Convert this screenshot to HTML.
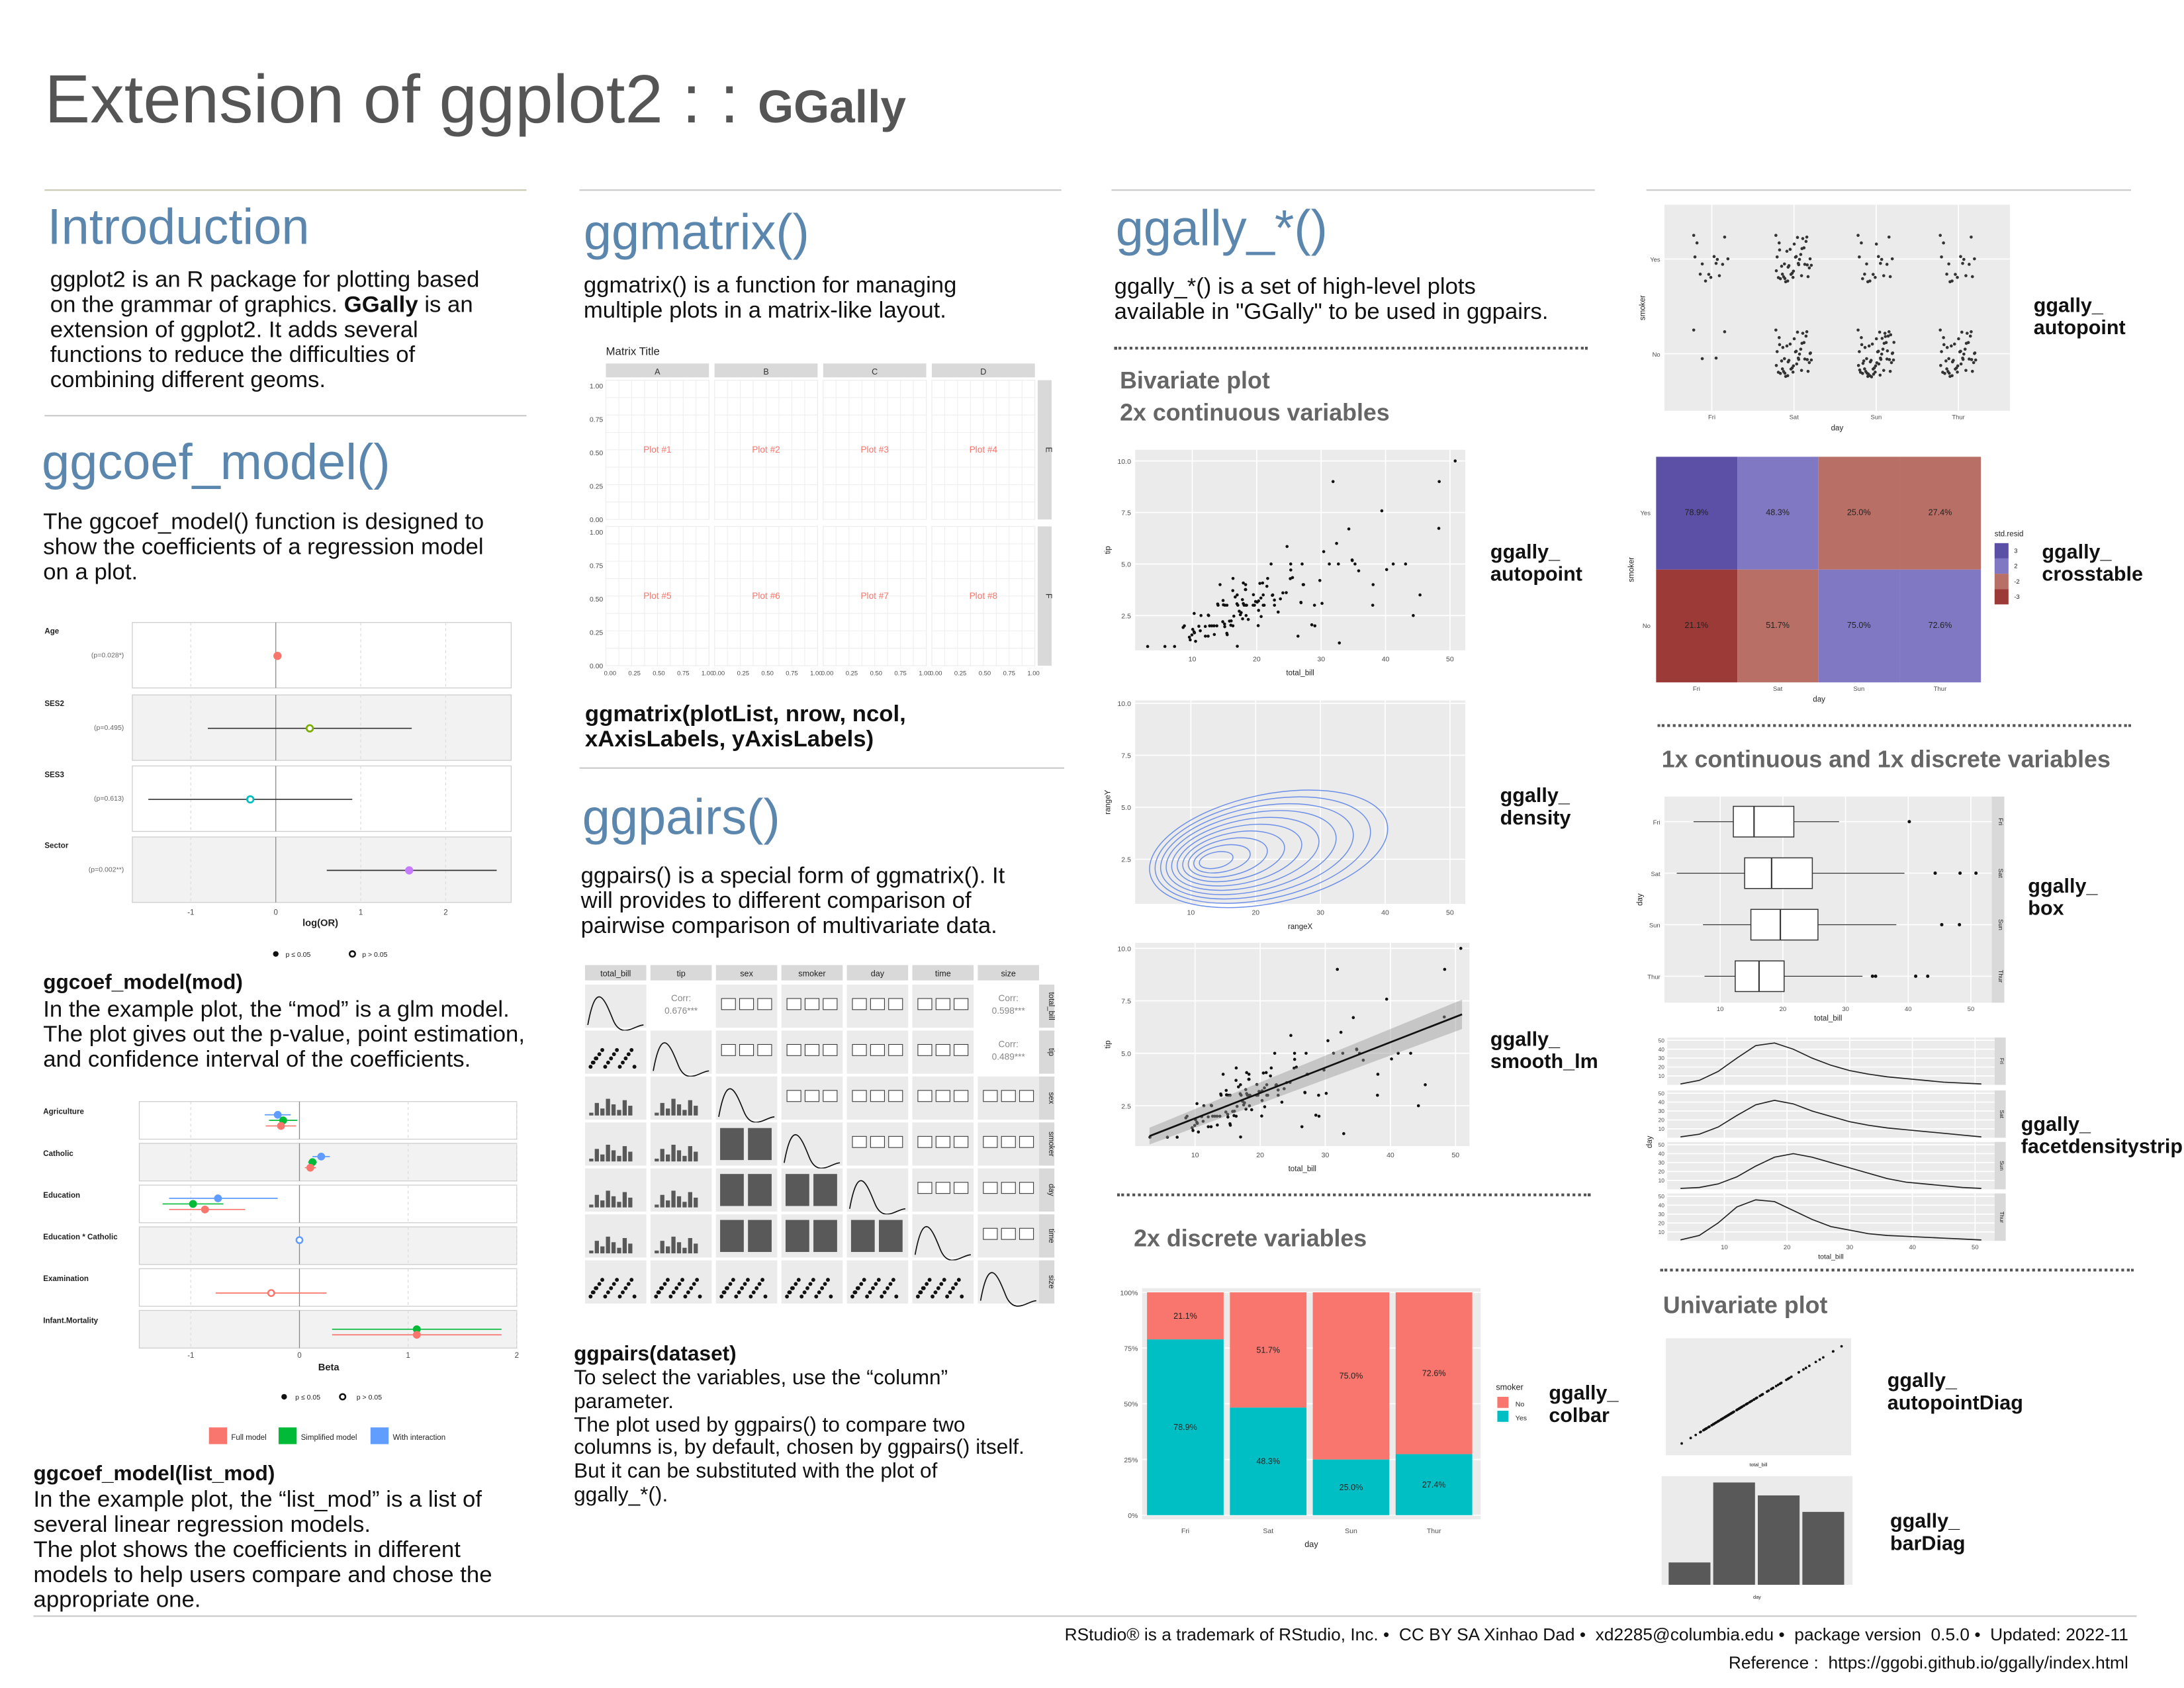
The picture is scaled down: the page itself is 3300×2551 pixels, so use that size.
<!DOCTYPE html>
<html><head><meta charset="utf-8">
<style>
html,body{margin:0;padding:0;background:#fff;}
#page{position:absolute;left:0;top:0;width:1568px;height:1212px;transform:scale(2.1046);transform-origin:0 0;font-family:"Liberation Sans",sans-serif;color:#111;overflow:hidden;}
.t{position:absolute;white-space:nowrap;}
.h{position:absolute;color:#5b86ad;font-size:36px;white-space:nowrap;}
.p{position:absolute;font-size:16.5px;line-height:18px;white-space:nowrap;}
.sub{position:absolute;color:#666;font-weight:bold;font-size:17px;white-space:nowrap;}
.lab{position:absolute;font-weight:bold;font-size:14.5px;line-height:16px;}
.rule{position:absolute;height:0;border-top:1.3px solid #c9c9c9;}
.dot{position:absolute;height:0;border-top:2px dotted #555;}
svg{position:absolute;left:0;top:0;}
</style></head><body>
<div id="page">
<div class="t" style="left:32px;top:44px;font-size:49px;color:#555;">Extension of ggplot2 : : <span style="font-size:33px;font-weight:bold;">GGally</span></div>

<div class="rule" style="left:32px;top:136px;width:346px;border-color:#c8c8b0"></div>
<div class="h" style="left:34px;top:142px;">Introduction</div>
<div class="p" style="left:36px;top:192px;">ggplot2 is an R package for plotting based<br>on the grammar of graphics. <b>GGally</b> is an<br>extension of ggplot2. It adds several<br>functions to reduce the difficulties of<br>combining different geoms.</div>
<div class="rule" style="left:32px;top:298px;width:346px;"></div>
<div class="h" style="left:30px;top:311px;">ggcoef_model()</div>
<div class="p" style="left:31px;top:366px;">The ggcoef_model() function is designed to<br>show the coefficients of a regression model<br>on a plot.</div>
<div class="lab" style="left:31px;top:698px;font-size:15px;">ggcoef_model(mod)</div>
<div class="p" style="left:31px;top:716px;">In the example plot, the “mod” is a glm model.<br>The plot gives out the p-value, point estimation,<br>and confidence interval of the coefficients.</div>
<div class="lab" style="left:24px;top:1051px;font-size:15px;">ggcoef_model(list_mod)</div>
<div class="p" style="left:24px;top:1068px;">In the example plot, the “list_mod” is a list of<br>several linear regression models.<br>The plot shows the coefficients in different<br>models to help users compare and chose the<br>appropriate one.</div>

<div class="rule" style="left:416px;top:136px;width:346px;"></div>
<div class="h" style="left:419px;top:146px;">ggmatrix()</div>
<div class="p" style="left:419px;top:196px;">ggmatrix() is a function for managing<br>multiple plots in a matrix-like layout.</div>
<div class="lab" style="left:420px;top:504px;font-size:16.5px;line-height:18px;">ggmatrix(plotList, nrow, ncol,<br>xAxisLabels, yAxisLabels)</div>
<div class="rule" style="left:416px;top:551px;width:348px;"></div>
<div class="h" style="left:418px;top:566px;">ggpairs()</div>
<div class="p" style="left:417px;top:620px;">ggpairs() is a special form of ggmatrix(). It<br>will provides to different comparison of<br>pairwise comparison of multivariate data.</div>
<div class="lab" style="left:412px;top:965px;font-size:15px;">ggpairs(dataset)</div>
<div class="p" style="left:412px;top:982px;font-size:15px;line-height:16.8px;">To select the variables, use the “column”<br>parameter.<br>The plot used by ggpairs() to compare two<br>columns is, by default, chosen by ggpairs() itself.<br>But it can be substituted with the plot of<br>ggally_*().</div>

<div class="rule" style="left:798px;top:136px;width:347px;"></div>
<div class="h" style="left:801px;top:143px;">ggally_*()</div>
<div class="p" style="left:800px;top:197px;">ggally_*() is a set of high-level plots<br>available in "GGally" to be used in ggpairs.</div>
<div class="dot" style="left:800px;top:249px;width:340px;"></div>
<div class="sub" style="left:804px;top:262px;line-height:23px;">Bivariate plot<br>2x continuous variables</div>
<div class="lab" style="left:1070px;top:389px;">ggally_<br>autopoint</div>
<div class="lab" style="left:1077px;top:564px;">ggally_<br>density</div>
<div class="lab" style="left:1070px;top:739px;">ggally_<br>smooth_lm</div>
<div class="dot" style="left:802px;top:857px;width:340px;"></div>
<div class="sub" style="left:814px;top:880px;">2x discrete variables</div>
<div class="lab" style="left:1112px;top:993px;">ggally_<br>colbar</div>

<div class="rule" style="left:1182px;top:136px;width:348px;"></div>
<div class="lab" style="left:1460px;top:212px;">ggally_<br>autopoint</div>
<div class="lab" style="left:1466px;top:389px;">ggally_<br>crosstable</div>
<div class="dot" style="left:1190px;top:520px;width:340px;"></div>
<div class="sub" style="left:1193px;top:536px;">1x continuous and 1x discrete variables</div>
<div class="lab" style="left:1456px;top:629px;">ggally_<br>box</div>
<div class="lab" style="left:1451px;top:800px;">ggally_<br>facetdensitystrip</div>
<div class="dot" style="left:1192px;top:911px;width:340px;"></div>
<div class="sub" style="left:1194px;top:928px;">Univariate plot</div>
<div class="lab" style="left:1355px;top:984px;">ggally_<br>autopointDiag</div>
<div class="lab" style="left:1357px;top:1085px;">ggally_<br>barDiag</div>

<div class="rule" style="left:24px;top:1160px;width:1510px;"></div>
<div class="t" style="right:40px;top:1167px;font-size:12.5px;">RStudio® is a trademark of RStudio, Inc. • &nbsp;CC BY SA Xinhao Dad • &nbsp;xd2285@columbia.edu • &nbsp;package version &nbsp;0.5.0 • &nbsp;Updated: 2022-11</div>
<div class="t" style="right:40px;top:1187px;font-size:12.5px;">Reference : &nbsp;https://ggobi.github.io/ggally/index.html</div>

<svg id="cv" width="1568" height="1212" viewBox="0 0 1568 1212" font-family="Liberation Sans, sans-serif"></svg>
</div>
<script>
// ---------- data ----------
const tipsBill=[16.99,10.34,21.01,23.68,24.59,25.29,8.77,26.88,15.04,14.78,10.27,35.26,15.42,18.43,14.83,21.58,10.33,16.29,16.97,20.65,17.92,20.29,15.77,39.42,19.82,17.81,13.37,12.69,21.7,19.65,9.55,18.35,15.06,20.69,17.78,24.06,16.31,16.93,18.69,31.27,16.04,17.46,13.94,9.68,30.4,18.29,22.23,32.4,28.55,18.04,12.54,10.29,34.81,9.94,25.56,19.49,38.01,26.41,11.24,48.27,20.29,13.81,11.02,18.29,17.59,20.08,16.45,3.07,20.23,15.01,12.02,17.07,26.86,25.28,14.73,10.51,17.92,27.2,22.76,17.29,19.44,16.66,10.07,32.68,15.98,34.83,13.03,18.28,24.71,21.16,28.97,22.49,5.75,16.32,22.75,40.17,27.28,12.03,21.01,12.46,11.35,15.38,44.3,22.42,20.92,15.36,20.49,25.21,18.24,14.31,14.0,7.25,50.81,48.33,45.35,43.11,41.19,38.07,29.03,32.83,35.83,30.14,23.33,13.42,12.48,8.58,29.8,34.3,27.05,31.85];
const tipsTip=[1.01,1.66,3.5,3.31,3.61,4.71,2.0,3.12,1.96,3.23,1.71,5.0,1.57,3.0,3.02,3.92,1.67,3.71,3.5,3.35,4.08,2.75,2.23,7.58,3.18,2.34,2.0,2.0,4.3,3.0,1.45,2.5,3.0,2.45,3.27,3.6,2.0,3.07,2.31,5.0,2.24,2.54,3.06,1.32,5.6,3.0,5.0,6.0,2.05,3.0,2.5,2.6,5.2,1.56,4.34,3.51,3.0,1.5,1.76,6.73,3.21,2.0,1.98,3.76,2.64,3.15,2.47,1.0,2.01,2.09,1.97,3.0,3.14,5.0,2.2,1.25,3.08,4.0,3.0,2.71,3.0,3.4,1.83,5.0,2.03,5.17,2.0,4.0,5.85,3.0,3.0,3.5,1.0,4.3,3.25,4.73,4.0,1.5,3.0,1.5,2.5,3.0,2.5,3.48,4.08,1.64,4.06,4.29,3.76,4.0,3.0,1.0,10.0,9.0,3.5,5.0,5.0,4.0,2.0,1.17,4.67,3.09,2.67,1.58,2.52,1.92,4.2,6.7,5.0,9.0];
const xTicks=[10,20,30,40,50];
const yTicksTip=[2.5,5.0,7.5,10.0];
const densityLevels=[1,2,3,4,5,6,7,8,9,10];
const days=['Fri','Sat','Sun','Thur'];
const pctNo=[21.1,51.7,75.0,72.6];
const pctYes=[78.9,48.3,25.0,27.4];
const residColorsYes=['#5b4fa6','#8078c2','#b86f66','#b86f66'];
const residColorsNo=['#9b3a36','#b86f66','#8078c2','#8078c2'];
const smokerYesCounts=[15,42,19,17];
const smokerNoCounts=[4,45,57,45];
const boxStats=[[5.75,12.1,15.4,21.75,28.97],[3.07,13.9,18.2,24.7,39.4],[7.25,14.9,19.6,25.6,38.1],[7.5,12.4,16.2,20.2,32.7]];
const boxOutliers=[[40.17],[44.3,48.27,50.81],[45.35,48.17],[34.3,34.8,41.19,43.11]];
const densGridX=[3,6,9,12,15,18,21,24,27,30,33,36,39,42,45,48,51];
const densFri=[1,5,15,30,44,47,40,30,22,16,12,9,7,5,3,2,1];
const densSat=[1,4,12,25,37,42,38,30,24,18,14,11,9,7,5,3,1];
const densSun=[1,2,6,14,26,36,40,36,30,24,18,12,8,6,4,2,1];
const densThur=[1,6,20,38,46,44,34,24,16,12,8,6,5,4,3,2,1];
const barDiagCounts=[19,87,76,62];
const coef1Terms=['Age','SES2','SES3','Sector'];
const coef1P=['(p=0.028*)','(p=0.495)','(p=0.613)','(p=0.002**)'];
const coef1Est=[0.02,0.4,-0.3,1.57];
const coef1Lo=[0.0,-0.8,-1.5,0.6];
const coef1Hi=[0.04,1.6,0.9,2.6];
const coef1Col=['#f8766d','#7cae00','#00bfc4','#c77cff'];
const coef2Terms=['Agriculture','Catholic','Education','Education * Catholic','Examination','Infant.Mortality'];
const coef2Full=[-0.17,0.1,-0.87,null,-0.26,1.08];
const coef2FullLo=[-0.31,0.05,-1.2,null,-0.77,0.3];
const coef2FullHi=[-0.03,0.15,-0.5,null,0.25,1.86];
const coef2Simp=[-0.15,0.12,-0.98,null,null,1.08];
const coef2SimpLo=[-0.28,0.08,-1.26,null,null,0.3];
const coef2SimpHi=[-0.02,0.16,-0.7,null,null,1.86];
const coef2Int=[-0.2,0.2,-0.75,0.0,null,null];
const coef2IntLo=[-0.32,0.12,-1.2,-0.01,null,null];
const coef2IntHi=[-0.08,0.28,-0.2,0.01,null,null];
const pairVars=['total_bill','tip','sex','smoker','day','time','size'];
const pairCorr=['0.676***','0.598***','0.489***'];
const matrixCols=['A','B','C','D'];
const matrixRows=['E','F'];

// ---------- helpers ----------
const NS='http://www.w3.org/2000/svg';
const cv=document.getElementById('cv');
function mk(parent,tag,attrs,txt){const e=document.createElementNS(NS,tag);for(const k in attrs)e.setAttribute(k,attrs[k]);if(txt!==undefined)e.textContent=txt;parent.appendChild(e);return e;}
function grp(name){const g=mk(cv,'g',{});


return g;}
function lin(d0,d1,r0,r1){return v=>r0+(v-d0)*(r1-r0)/(d1-d0);}
function panel(g,x,y,w,h){mk(g,'rect',{x:x,y:y,width:w,height:h,fill:'#ebebeb'});}
function vgrid(g,xs,y,h){xs.forEach(v=>mk(g,'line',{x1:v,x2:v,y1:y,y2:y+h,stroke:'#fff','stroke-width':0.8}));}
function hgrid(g,ys,x,w){ys.forEach(v=>mk(g,'line',{x1:x,x2:x+w,y1:v,y2:v,stroke:'#fff','stroke-width':0.8}));}
function txt(g,x,y,s,size,anchor,fill,extra){const t=mk(g,'text',Object.assign({x:x,y:y,'font-size':size,'text-anchor':anchor||'middle',fill:fill||'#4d4d4d'},extra||{}),s);return t;}

// ---------- scatter-type panels ----------
function scatterPanel(name,x0,y0,w,h,sx,sy,xlab,ylab,withPoints){
  const g=grp(name);
  panel(g,x0,y0,w,h);
  vgrid(g,xTicks.map(sx),y0,h);hgrid(g,yTicksTip.map(sy),x0,w);
  xTicks.forEach(v=>txt(g,sx(v),y0+h+8,String(v),5));
  yTicksTip.forEach(v=>txt(g,x0-3,sy(v)+2,v.toFixed(1),5,'end'));
  txt(g,x0+w/2,y0+h+18,xlab,5.5,'middle','#222');
  txt(g,x0-18,y0+h/2,ylab,5.5,'middle','#222',{transform:`rotate(-90 ${x0-18} ${y0+h/2})`});
  if(withPoints){tipsBill.forEach((b,i)=>{const c=mk(g,'circle',{cx:sx(b),cy:sy(tipsTip[i]),r:1.1,fill:'#111'});
    
    });}
  return g;
}
{const sx=lin(10,50,856,1041),sy=lin(2.5,10,442,331);scatterPanel('autopoint-scatter-chart',815,323,237,144,sx,sy,'total_bill','tip',true);}
{const sx=lin(10,50,855,1041),sy=lin(2.5,10,617,505);const g=scatterPanel('density-chart',815,503,237,146,sx,sy,'rangeX','rangeY',false);
 densityLevels.forEach(k=>{const cx=sx(13+k*0.9),cy=sy(2.4+k*0.06);const rx=4+k*8.3,ry=2+k*3.7;
  const e=mk(g,'ellipse',{cx:cx,cy:cy,rx:rx,ry:ry,fill:'none',stroke:'#6b8ee8','stroke-width':0.7,transform:`rotate(-12 ${cx} ${cy})`});
  
  });}
{const sx=lin(10,50,858,1045),sy=lin(2.5,10,794,681);const g=scatterPanel('smooth-lm-chart',815,677,240,146,sx,sy,'total_bill','tip',true);
 const n=tipsBill.length,mx=tipsBill.reduce((a,b)=>a+b)/n,my=tipsTip.reduce((a,b)=>a+b)/n;let sxy=0,sxx=0;tipsBill.forEach((b,i)=>{sxy+=(b-mx)*(tipsTip[i]-my);sxx+=(b-mx)*(b-mx);});
 const sl=sxy/sxx,ic=my-sl*mx;
 mk(g,'polygon',{points:`${sx(3)},${sy(ic+sl*3+0.4)} ${sx(51)},${sy(ic+sl*51+0.7)} ${sx(51)},${sy(ic+sl*51-0.7)} ${sx(3)},${sy(ic+sl*3-0.4)}`,fill:'#999','fill-opacity':0.45});
 const l=mk(g,'line',{x1:sx(3),y1:sy(ic+sl*3),x2:sx(51),y2:sy(ic+sl*51),stroke:'#111','stroke-width':1.3});
 
 }

// ---------- colbar ----------
{const g=grp('colbar-chart');const x0=820,y0=925,w=243,h=166;panel(g,x0,y0,w,h);
 const sy=lin(0,100,y0+h-3,y0+3);const bw=55,step=59.5;
 [0,25,50,75,100].forEach(v=>{mk(g,'line',{x1:x0,x2:x0+w,y1:sy(v),y2:sy(v),stroke:'#fff','stroke-width':0.8});txt(g,x0-3,sy(v)+2,v+'%',5,'end');});
 days.forEach((d,i)=>{const cx=x0+31+i*step;
  const ry=mk(g,'rect',{x:cx-bw/2,y:sy(pctYes[i]),width:bw,height:sy(0)-sy(pctYes[i]),fill:'#00bfc4'});
  
  
  const rn=mk(g,'rect',{x:cx-bw/2,y:sy(100),width:bw,height:sy(pctYes[i])-sy(100),fill:'#f8766d'});
  
  
  txt(g,cx,(sy(pctYes[i])+sy(100))/2+2,pctNo[i].toFixed(1)+'%',6,'middle','#222');
  txt(g,cx,(sy(pctYes[i])+sy(0))/2+2,pctYes[i].toFixed(1)+'%',6,'middle','#222');
  txt(g,cx,y0+h+10,d,5);});
 txt(g,x0+w/2,y0+h+20,'day',6,'middle','#222');
 txt(g,1074,998,'smoker',6,'start','#222');
 mk(g,'rect',{x:1075,y:1003,width:8,height:8,fill:'#f8766d'});mk(g,'rect',{x:1075,y:1013,width:8,height:8,fill:'#00bfc4'});
 txt(g,1088,1010,'No',5,'start','#222');txt(g,1088,1020,'Yes',5,'start','#222');}

// ---------- autopoint 2 ----------
{const g=grp('smoker-day-autopoint-chart');const x0=1195,y0=147,w=248,h=148;panel(g,x0,y0,w,h);
 const cxs=days.map((d,i)=>x0+34+i*59);const yYes=186,yNo=254;
 vgrid(g,cxs,y0,h);hgrid(g,[yYes,yNo],x0,w);
 function jit(cnt,cx,cy,tag){for(let k=0;k<cnt;k++){const a=(k*0.618)%1,b=(k*0.382+0.21*k*k%1)%1;
  const c=mk(g,'circle',{cx:cx+(a-0.5)*26,cy:cy+(b-0.5)*34,r:1.1,fill:'#333'});
  
  }}
 days.forEach((d,i)=>{jit(smokerYesCounts[i],cxs[i],yYes,'yes');jit(smokerNoCounts[i],cxs[i],yNo,'no');txt(g,cxs[i],y0+h+6,d,4.5);});
 txt(g,x0-3,yYes+2,'Yes',4.5,'end');txt(g,x0-3,yNo+2,'No',4.5,'end');
 txt(g,x0+w/2,y0+h+14,'day',5.5,'middle','#222');txt(g,x0-14,y0+h/2,'smoker',5.5,'middle','#222',{transform:`rotate(-90 ${x0-14} ${y0+h/2})`});}

// ---------- crosstable ----------
{const g=grp('crosstable-chart');const x0=1189,y0=328,ch=81;
 days.forEach((d,i)=>{const x=x0+i*58.3;
  const a=mk(g,'rect',{x:x,y:y0,width:58.3,height:ch,fill:residColorsYes[i]});
  
  
  const b=mk(g,'rect',{x:x,y:y0+ch,width:58.3,height:ch,fill:residColorsNo[i]});
  
  
  txt(g,x+29,y0+42,pctYes[i].toFixed(1)+'%',6,'middle','#222');txt(g,x+29,y0+ch+42,pctNo[i].toFixed(1)+'%',6,'middle','#222');
  txt(g,x+29,y0+2*ch+6,d,4.5);});
 txt(g,x0-4,y0+42,'Yes',4.5,'end');txt(g,x0-4,y0+ch+42,'No',4.5,'end');
 txt(g,x0+117,y0+2*ch+14,'day',5.5,'middle','#222');txt(g,x0-16,y0+ch,'smoker',5.5,'middle','#222',{transform:`rotate(-90 ${x0-16} ${y0+ch})`});
 txt(g,1432,385,'std.resid',5.5,'start','#222');
 ['#5b4fa6','#8078c2','#b86f66','#9b3a36'].forEach((c,i)=>mk(g,'rect',{x:1432,y:390+i*11,width:10,height:11,fill:c}));
 ['3','2','-2','-3'].forEach((s,i)=>txt(g,1446,397+i*11,s,4.5,'start','#222'));}

// ---------- box plot ----------
{const g=grp('box-chart');const x0=1195,y0=572,w=235,h=148;panel(g,x0,y0,w,h);
 mk(g,'rect',{x:x0+w,y:y0,width:9,height:h,fill:'#d9d9d9'});
 const sx=lin(10,50,1235,1415);const rows=[590,627,664,701];
 vgrid(g,xTicks.map(sx),y0,h);hgrid(g,rows,x0,w);
 days.forEach((d,i)=>{const s=boxStats[i],cy=rows[i];
  mk(g,'line',{x1:sx(s[0]),x2:sx(s[1]),y1:cy,y2:cy,stroke:'#333','stroke-width':0.6});
  mk(g,'line',{x1:sx(s[3]),x2:sx(s[4]),y1:cy,y2:cy,stroke:'#333','stroke-width':0.6});
  const r=mk(g,'rect',{x:sx(s[1]),y:cy-11,width:sx(s[3])-sx(s[1]),height:22,fill:'#fff',stroke:'#333','stroke-width':0.7});
  
  
  mk(g,'line',{x1:sx(s[2]),x2:sx(s[2]),y1:cy-11,y2:cy+11,stroke:'#333','stroke-width':1});
  boxOutliers[i].forEach(o=>mk(g,'circle',{cx:sx(o),cy:cy,r:1.2,fill:'#111'}));
  txt(g,x0-3,cy+2,d,4.5,'end');txt(g,x0+w+5,cy,d,4.5,'middle','#222',{transform:`rotate(90 ${x0+w+5} ${cy})`});});
 xTicks.forEach(v=>txt(g,sx(v),y0+h+6,String(v),4.5));
 txt(g,x0+w/2,y0+h+13,'total_bill',5.5,'middle','#222');txt(g,x0-16,y0+h/2,'day',5.5,'middle','#222',{transform:`rotate(-90 ${x0-16} ${y0+h/2})`});}

// ---------- facet density strip ----------
{const g=grp('facetdensitystrip-chart');const x0=1197,w=235,sx=lin(10,50,1238,1418);const ptops=[745,783,820,857],ph=34;
 const series=[densFri,densSat,densSun,densThur];
 ptops.forEach((py,i)=>{panel(g,x0,py,w,ph);mk(g,'rect',{x:x0+w,y:py,width:8,height:ph,fill:'#d9d9d9'});
  txt(g,x0+w+4,py+ph/2,days[i],4,'middle','#222',{transform:`rotate(90 ${x0+w+4} ${py+ph/2})`});
  const sy=lin(0,50,py+ph,py+2);
  vgrid(g,xTicks.map(sx),py,ph);hgrid(g,[10,20,30,40,50].map(sy),x0,w);
  [10,20,30,40,50].forEach(v=>txt(g,x0-2,sy(v)+1.5,String(v),4,'end'));
  const pts=densGridX.map((xv,k)=>sx(xv)+','+sy(series[i][k])).join(' ');
  const pl=mk(g,'polyline',{points:pts,fill:'none',stroke:'#222','stroke-width':0.8});
  
  });
 xTicks.forEach(v=>txt(g,sx(v),897,String(v),4.5));
 txt(g,x0+w/2,904,'total_bill',5,'middle','#222');txt(g,1186,820,'day',5.5,'middle','#222',{transform:'rotate(-90 1186 820)'});}

// ---------- autopointDiag ----------
{const g=grp('autopointdiag-chart');const x0=1196,y0=961,w=133,h=84;panel(g,x0,y0,w,h);
 const sx=lin(0,52,x0+4,x0+w-4),sy=lin(0,52,y0+h-4,y0+4);
 tipsBill.forEach(b=>{const c=mk(g,'circle',{cx:sx(b),cy:sy(b),r:0.9,fill:'#111'});
  
  });
 txt(g,x0+w/2,y0+h+8,'total_bill',3.5,'middle','#222');}

// ---------- barDiag ----------
{const g=grp('bardiag-chart');const x0=1193,y0=1060,w=137,h=78;panel(g,x0,y0,w,h);
 const sy=lin(0,90,y0+h,y0+2);const bw=30;
 barDiagCounts.forEach((c,i)=>{const r=mk(g,'rect',{x:x0+5+i*(bw+2),y:sy(c),width:bw,height:sy(0)-sy(c),fill:'#595959'});
  
  });
 txt(g,x0+w/2,y0+h+10,'day',3.5,'middle','#222');}

// ---------- ggmatrix ----------
{const g=grp('ggmatrix-chart');txt(g,435,255,'Matrix Title',8,'start','#222');
 const cx=[435,513,591,669],cw=74,ry=[273,378],rh=100;let n=1;
 matrixCols.forEach((c,i)=>{mk(g,'rect',{x:cx[i],y:261,width:cw,height:10,fill:'#d9d9d9'});txt(g,cx[i]+cw/2,269,c,6,'middle','#333');});
 ry.forEach((y,r)=>{mk(g,'rect',{x:745,y:y,width:10,height:rh,fill:'#d9d9d9'});txt(g,751,y+rh/2,matrixRows[r],6,'middle','#333',{transform:`rotate(90 751 ${y+rh/2})`});
  [0,0.25,0.5,0.75,1].forEach(v=>txt(g,433,y+rh-v*rh*0.96+2,v.toFixed(2),5,'end'));
  cx.forEach((x,i)=>{mk(g,'rect',{x:x,y:y,width:cw,height:rh,fill:'#fff',stroke:'#ebebeb','stroke-width':0.6});
   for(let k=0;k<=8;k++){mk(g,'line',{x1:x+k*cw/8,x2:x+k*cw/8,y1:y,y2:y+rh,stroke:'#eee','stroke-width':0.5});mk(g,'line',{x1:x,x2:x+cw,y1:y+k*rh/8,y2:y+k*rh/8,stroke:'#eee','stroke-width':0.5});}
   txt(g,x+37,y+rh/2+2,'Plot #'+(n++),6.5,'middle','#f8766d');});});
 cx.forEach(x=>['0.00','0.25','0.50','0.75','1.00'].forEach((s,k)=>txt(g,x+3+k*17.5,485,s,4.5)));}

// ---------- ggpairs ----------
{const g=grp('ggpairs-chart');const cx0=420,cw=44,cs=47,ry0=707,rh=31,rs=33;
 pairVars.forEach((v,i)=>{mk(g,'rect',{x:cx0+i*cs,y:693,width:cw,height:11,fill:'#d9d9d9'});txt(g,cx0+i*cs+cw/2,701,v,6,'middle','#222');
  mk(g,'rect',{x:746,y:ry0+i*rs,width:11,height:rh,fill:'#d9d9d9'});txt(g,753,ry0+i*rs+rh/2,v,5.5,'middle','#222',{transform:`rotate(90 753 ${ry0+i*rs+rh/2})`});});
 const disc=[false,false,true,true,true,true,false];
 for(let r=0;r<7;r++)for(let c=0;c<7;c++){const x=cx0+c*cs,y=ry0+r*rs;
  const bg=mk(g,'rect',{x:x,y:y,width:cw,height:rh,fill:(r<c&&!disc[r]&&!disc[c])?'#fff':'#ebebeb'});
  
  
  if(r===c){mk(g,'path',{d:`M${x+2},${y+rh-2} C${x+8},${y-4} ${x+14},${y+10} ${x+20},${y+rh-6} S${x+36},${y+rh-2} ${x+cw-2},${y+rh-2}`,fill:'none',stroke:'#111','stroke-width':0.8});}
  else if(r<c&&!disc[r]&&!disc[c]){const k=(r===0&&c===1)?0:(r===0?1:2);txt(g,x+cw/2,y+12,'Corr:',6.5,'middle','#888');txt(g,x+cw/2,y+21,pairCorr[k],6.5,'middle','#888');}
  else if(r<c){for(let k=0;k<3;k++)mk(g,'rect',{x:x+4+k*13,y:y+10,width:10,height:8,fill:'#fff',stroke:'#333','stroke-width':0.5});}
  else if(disc[r]&&disc[c]){for(let k=0;k<2;k++)mk(g,'rect',{x:x+3+k*20,y:y+4,width:17,height:rh-8,fill:'#595959'});}
  else if(disc[r]){for(let k=0;k<8;k++)mk(g,'rect',{x:x+3+k*4,y:y+rh-3-((k*7)%11)-2,width:3,height:((k*7)%11)+2,fill:'#595959'});}
  else {for(let k=0;k<18;k++){mk(g,'circle',{cx:x+4+(k*2.1)%32,cy:y+rh-5-(k%5)*3,r:1.4,fill:'#111'});}}
 }}

// ---------- ggcoef_model(mod) ----------
{const g=grp('ggcoef-model-chart');const sx=lin(-1,2,137,320);const tops=[447,499,550,601],ph=47;
 coef1Terms.forEach((t,i)=>{const y=tops[i];mk(g,'rect',{x:95,y:y,width:272,height:ph,fill:i%2?'#f2f2f2':'#fff',stroke:'#ccc','stroke-width':0.6});
  [-1,0,1,2].forEach(v=>mk(g,'line',{x1:sx(v),x2:sx(v),y1:y,y2:y+ph,stroke:v===0?'#888':'#ddd','stroke-width':0.6,'stroke-dasharray':v===0?'':'2,2'}));
  txt(g,32,y+8,t,5.5,'start','#222',{'font-weight':'bold'});txt(g,89,y+25,coef1P[i],5,'end','#666');
  const cy=y+24;mk(g,'line',{x1:sx(coef1Lo[i]),x2:sx(coef1Hi[i]),y1:cy,y2:cy,stroke:'#333','stroke-width':0.8});
  const p=mk(g,'circle',{cx:sx(coef1Est[i]),cy:cy,r:2.3,fill:i===0||i===3?coef1Col[i]:'#fff',stroke:coef1Col[i],'stroke-width':1.3});
  
  });
 [-1,0,1,2].forEach(v=>txt(g,sx(v),657,String(v),5.5));
 txt(g,230,665,'log(OR)',7,'middle','#222',{'font-weight':'bold'});
 mk(g,'circle',{cx:198,cy:685,r:2,fill:'#111'});txt(g,205,687,'p ≤ 0.05',5,'start','#222');
 mk(g,'circle',{cx:253,cy:685,r:2,fill:'#fff',stroke:'#111','stroke-width':1.2});txt(g,260,687,'p > 0.05',5,'start','#222');}

// ---------- ggcoef_model(list_mod) ----------
{const g=grp('ggcoef-list-model-chart');const sx=lin(-1,2,137,371);const ph=27;
 const models=[[coef2Int,coef2IntLo,coef2IntHi,'#619cff',-4],[coef2Simp,coef2SimpLo,coef2SimpHi,'#00ba38',0],[coef2Full,coef2FullLo,coef2FullHi,'#f8766d',4]];
 coef2Terms.forEach((t,i)=>{const y=791+i*30;mk(g,'rect',{x:100,y:y,width:271,height:ph,fill:i%2?'#f2f2f2':'#fff',stroke:'#ccc','stroke-width':0.6});
  [-1,0,1,2].forEach(v=>mk(g,'line',{x1:sx(v),x2:sx(v),y1:y,y2:y+ph,stroke:v===0?'#888':'#ddd','stroke-width':0.6,'stroke-dasharray':v===0?'':'2,2'}));
  txt(g,31,y+9,t,5.5,'start','#222',{'font-weight':'bold'});
  models.forEach(m=>{if(m[0][i]===null)return;const cy=y+ph/2+m[4];
   mk(g,'line',{x1:sx(m[1][i]),x2:sx(m[2][i]),y1:cy,y2:cy,stroke:m[3],'stroke-width':0.8});
   const p=mk(g,'circle',{cx:sx(m[0][i]),cy:cy,r:2.2,fill:(i===3||i===4)?'#fff':m[3],stroke:m[3],'stroke-width':1.2});
   
   });});
 [-1,0,1,2].forEach(v=>txt(g,sx(v),975,String(v),5.5));
 txt(g,236,984,'Beta',7,'middle','#222',{'font-weight':'bold'});
 mk(g,'circle',{cx:204,cy:1003,r:2,fill:'#111'});txt(g,212,1005,'p ≤ 0.05',5,'start','#222');
 mk(g,'circle',{cx:246,cy:1003,r:2,fill:'#fff',stroke:'#111','stroke-width':1.2});txt(g,256,1005,'p > 0.05',5,'start','#222');
 [['#f8766d','Full model',150],['#00ba38','Simplified model',200],['#619cff','With interaction',266]].forEach(a=>{mk(g,'rect',{x:a[2],y:1025,width:13,height:12,fill:a[0]});txt(g,a[2]+16,1034,a[1],5.5,'start','#222');});}
</script>
</body></html>
